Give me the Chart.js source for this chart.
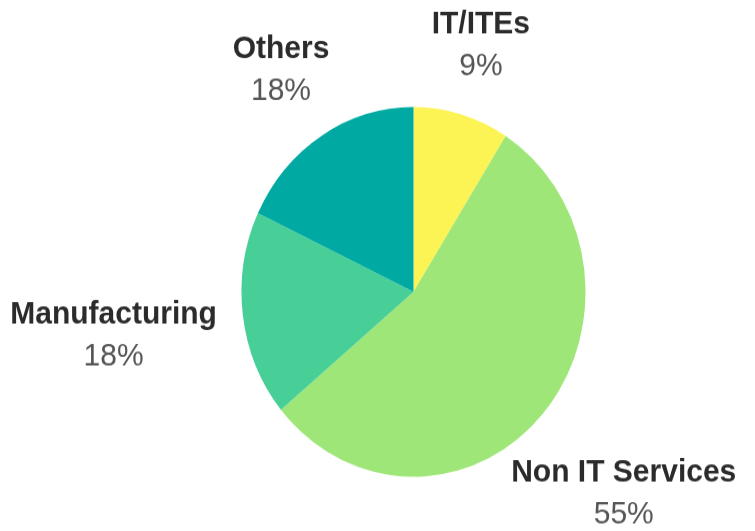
<!DOCTYPE html>
<html>
<head>
<meta charset="utf-8">
<script src="https://cdn.jsdelivr.net/npm/chart.js@4/dist/chart.umd.min.js"></script>
<style>
  html, body { margin: 0; padding: 0; background: #ffffff; width: 755px; height: 531px; }
  #wrap { width: 755px; height: 494px; transform: scaleY(1.0749); transform-origin: 0 0; }
</style>
</head>
<body>
<div id="wrap"><canvas id="c" width="755" height="494"></canvas></div>
<script>
const categories = ["IT/ITEs", "Non IT Services", "Manufacturing", "Others"];
const shares = [9, 55, 18, 18];
const percentLabels = ["9%", "55%", "18%", "18%"];
const sliceColors = ["#fcf354", "#9de677", "#48cf98", "#00aaa2"];

const labelPlugin = {
  id: "outerLabels",
  afterDatasetsDraw(chart, args, opts) {
    const ctx = chart.ctx;
    const meta = chart.getDatasetMeta(0);
    ctx.save();
    meta.data.forEach((arc, i) => {
      const p = arc.getProps(["x", "y", "startAngle", "endAngle", "outerRadius"], true);
      const mid = (p.startAngle + p.endAngle) / 2;
      const dx = Math.cos(mid), dy = Math.sin(mid);
      ctx.font = "bold 30px 'Liberation Sans', Arial, sans-serif";
      const w1 = ctx.measureText(categories[i]).width;
      ctx.font = "30px 'Liberation Sans', Arial, sans-serif";
      const w2 = ctx.measureText(percentLabels[i]).width;
      const halfW = Math.max(w1, w2) / 2;
      const halfH = 30;
      const r = p.outerRadius + halfW * Math.abs(dx) + halfH * Math.abs(dy) + opts.gaps[i];
      const cx = p.x + dx * r;
      const cy = p.y + dy * r;
      ctx.textAlign = "center";
      ctx.textBaseline = "alphabetic";
      ctx.fillStyle = "#2b2b2b";
      ctx.font = "bold 30px 'Liberation Sans', Arial, sans-serif";
      ctx.fillText(categories[i], cx, cy - 19.5 + 10.7);
      ctx.fillStyle = "#555555";
      ctx.font = "30px 'Liberation Sans', Arial, sans-serif";
      ctx.fillText(percentLabels[i], cx, cy + 19.5 + 10.7);
    });
    ctx.restore();
  }
};

new Chart(document.getElementById("c"), {
  type: "pie",
  data: {
    labels: categories,
    datasets: [{
      data: shares,
      backgroundColor: sliceColors,
      borderWidth: 0
    }]
  },
  options: {
    responsive: false,
    animation: false,
    layout: { padding: { left: 72, right: 0, top: 99.6, bottom: 50.4 } },
    plugins: {
      legend: { display: false },
      tooltip: { enabled: false },
      outerLabels: { gaps: [27, 4, 24, 24] }
    }
  },
  plugins: [labelPlugin]
});
</script>
</body>
</html>
